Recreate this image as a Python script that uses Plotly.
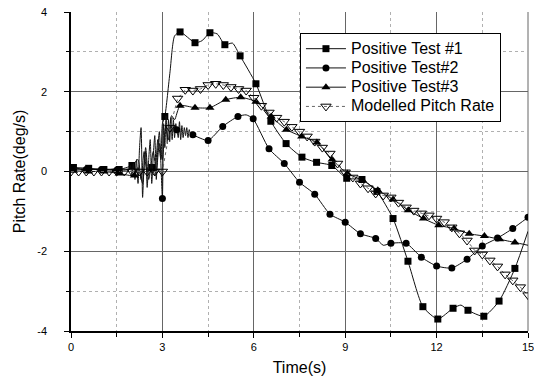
import plotly.graph_objects as go

# ---------------- data ----------------
# Positive Test #1 (squares): marker points
t1_time = [0.08, 0.58, 1.08, 1.58, 2.0, 2.65, 3.08, 3.58, 4.07, 4.56, 5.05, 5.55, 6.07,
           6.56, 7.06, 7.58, 8.06, 8.56, 9.05, 9.55, 10.04, 10.57, 11.06, 11.55, 12.04,
           12.54, 13.03, 13.55, 14.05, 14.57]
t1_rate = [0.10, 0.08, 0.05, 0.05, 0.15, 0.10, 1.38, 3.50, 3.23, 3.48, 3.18, 2.90, 2.20,
           1.26, 0.70, 0.36, 0.23, 0.15, -0.17, -0.20, -0.50, -1.18, -2.25, -3.39, -3.70,
           -3.43, -3.48, -3.63, -3.25, -2.43]
# extra line-only points of Test #1 (noise and details between markers)
t1_extra_time = [2.2, 2.3, 2.4, 2.5, 2.75, 2.85, 2.95, 3.0, 3.25, 3.4, 4.3, 4.8, 5.3,
                 12.8, 15.0]
t1_extra_rate = [0.30, -0.20, 0.50, 0.00, -0.10, 0.80, 0.30, 1.20, 2.50, 3.40, 3.28, 3.45, 3.22,
                 -3.35, -1.50]

# Positive Test #2 (circles)
t2_time = [0.0, 0.5, 1.0, 1.5, 3.0, 3.47, 4.0, 4.5, 4.98, 5.48, 5.98, 6.5, 7.0, 7.5, 8.0,
           8.5, 9.0, 9.5, 10.0, 10.5, 11.0, 11.5, 12.0, 12.5, 13.0, 13.5, 14.0, 14.5, 15.0]
t2_rate = [0.10, 0.05, 0.05, 0.03, -0.68, 1.05, 0.92, 0.78, 1.13, 1.38, 1.32, 0.57, 0.20,
           -0.27, -0.57, -1.07, -1.27, -1.56, -1.68, -1.80, -1.80, -2.15, -2.37, -2.42,
           -2.20, -1.87, -1.67, -1.43, -1.15]
t2_extra_time = [1.90, 1.95, 2.00, 2.05, 2.10, 2.15, 2.20, 2.25, 2.30, 2.35, 2.40, 2.45,
                 2.50, 2.55, 2.60, 2.65, 2.70, 2.75, 2.80, 2.85, 2.90, 2.95,
                 3.04, 3.08, 3.12, 3.16, 3.20, 3.24, 3.28, 3.32, 3.36, 3.40, 3.44,
                 3.52, 3.56, 3.60, 3.64, 3.68, 3.72, 3.76, 3.80, 3.84, 3.88, 3.92,
                 5.75, 10.25]
t2_extra_rate = [0.05, 0.15, -0.10, 0.20, -0.20, 0.30, -0.30, 0.60, 1.10, -0.65, 0.20, 0.50,
                 -0.40, 0.30, 0.80, -0.30, 0.40, 0.90, -0.20, 0.60, 1.00, 0.20,
                 1.20, 0.60, 1.40, 0.70, 1.30, 0.75, 1.35, 0.80, 1.30, 0.85, 1.20,
                 0.85, 1.25, 0.80, 1.15, 0.85, 1.10, 0.90, 1.10, 0.85, 1.05, 0.95,
                 1.42, -1.85]

# Positive Test #3 (up triangles)
t3_time = [0.08, 0.58, 1.08, 1.58, 2.08, 3.58, 4.07, 4.56, 5.08, 5.57, 6.07, 6.57, 7.07,
           7.57, 8.07, 8.57, 9.07, 9.57, 10.07, 10.57, 11.07, 11.57, 12.07, 12.57, 13.07,
           13.57, 14.07, 14.57]
t3_rate = [0.02, 0.00, 0.00, -0.05, -0.10, 1.65, 1.60, 1.60, 1.80, 1.86, 1.75, 1.38, 1.05,
           0.88, 0.73, 0.30, -0.05, -0.22, -0.47, -0.70, -0.97, -1.18, -1.35, -1.43, -1.56,
           -1.62, -1.70, -1.78]
t3_extra_time = [2.2, 2.35, 2.45, 2.55, 2.7, 2.8, 2.9, 3.0, 3.1, 3.2, 3.3, 3.4, 15.0]
t3_extra_rate = [0.10, -0.30, 0.60, -0.20, 0.50, 0.00, 0.70, 0.30, 1.10, 0.80, 1.40, 1.30, -1.85]

# Modelled Pitch Rate (open down triangles, every 0.25 s)
model_time = [0.0, 0.25, 0.5, 0.75, 1.0, 1.25, 1.5, 1.75, 2.0, 2.25, 2.5, 2.75, 3.0,
              3.25, 3.5, 3.75, 4.0, 4.25, 4.5, 4.75, 5.0, 5.25, 5.5, 5.75, 6.0,
              6.25, 6.5, 6.75, 7.0, 7.25, 7.5, 7.75, 8.0, 8.25, 8.5, 8.75, 9.0,
              9.25, 9.5, 9.75, 10.0, 10.25, 10.5, 10.75, 11.0, 11.25, 11.5, 11.75, 12.0,
              12.25, 12.5, 12.75, 13.0, 13.25, 13.5, 13.75, 14.0, 14.25, 14.5, 14.75, 15.0]
model_rate = [0, 0, 0, 0, 0, 0, 0, 0, 0, 0, 0, 0, 0,
              1.10, 1.83, 2.05, 2.03, 2.07, 2.17, 2.20, 2.17, 2.12, 2.07, 2.03, 1.85,
              1.65, 1.48, 1.35, 1.25, 1.12, 1.00, 0.88, 0.75, 0.60, 0.45, 0.20, -0.02,
              -0.15, -0.30, -0.42, -0.55, -0.60, -0.65, -0.78, -0.90, -0.98, -1.05, -1.10, -1.18,
              -1.27, -1.40, -1.55, -1.73, -1.98, -2.08, -2.23, -2.38, -2.58, -2.73, -2.90, -3.10]

x_ticks = [0, 3, 6, 9, 12, 15]
y_ticks = [-4, -2, 0, 2, 4]

names = ["Positive Test #1", "Positive Test#2", "Positive Test#3", "Modelled Pitch Rate"]


def merged(tm, vm, te, ve):
    pts = sorted(zip(list(tm) + list(te), list(vm) + list(ve)))
    return [p[0] for p in pts], [p[1] for p in pts]


def legend_label(s):
    return '<span style="font-size:16px">' + s + '</span>'


fig = go.Figure()

series = [
    (t1_time, t1_rate, t1_extra_time, t1_extra_rate, "square", 7),
    (t2_time, t2_rate, t2_extra_time, t2_extra_rate, "circle", 7),
    (t3_time, t3_rate, t3_extra_time, t3_extra_rate, "triangle-up", 8),
]

for (tm, vm, te, ve, sym, size), name in zip(series, names[:3]):
    lx, ly = merged(tm, vm, te, ve)
    fig.add_trace(go.Scatter(x=lx, y=ly, mode="lines", showlegend=False,
                             line=dict(color="#111", width=1, shape="spline", smoothing=0.6),
                             hoverinfo="skip"))
    fig.add_trace(go.Scatter(x=tm, y=vm, mode="markers", showlegend=False,
                             marker=dict(symbol=sym, size=size, color="black")))
    fig.add_trace(go.Scatter(x=[None], y=[None], mode="lines+markers",
                             name=legend_label(name),
                             line=dict(color="#111", width=1),
                             marker=dict(symbol=sym, size=size, color="black")))

fig.add_trace(go.Scatter(x=model_time, y=model_rate, mode="lines+markers",
                         name=legend_label(names[3]),
                         line=dict(color="#666", width=1, dash="dot"),
                         marker=dict(symbol="triangle-down-open", size=9,
                                     color="black", line=dict(width=1, color="black"))))

axis_font = dict(family="Liberation Sans, Arial, sans-serif", size=11, color="black")

fig.update_layout(
    width=534, height=384,
    margin=dict(l=71, r=6, t=12, b=53, autoexpand=False),
    paper_bgcolor="white", plot_bgcolor="white",
    font=dict(family="Liberation Sans, Arial, sans-serif", color="black"),
    showlegend=True,
    legend=dict(x=0.501, y=0.934, xanchor="left", yanchor="top",
                bgcolor="white", bordercolor="black", borderwidth=1,
                font=dict(size=12.5, family="Liberation Sans, Arial, sans-serif"),
                tracegroupgap=0, itemwidth=40),
    shapes=[dict(type="line", xref="x domain", yref="y domain", x0=1, x1=1, y0=0, y1=1,
                 line=dict(color="#666", width=1), layer="below")],
    xaxis=dict(range=[0, 15], tickvals=x_ticks, ticktext=[str(v) for v in x_ticks],
               automargin=False,
               showline=True, linecolor="black", linewidth=1.5,
               ticks="outside", ticklen=5, tickwidth=1, tickcolor="black",
               tickfont=axis_font, ticklabelstandoff=0, ticklabeloverflow="allow",
               showgrid=True, gridcolor="#666", gridwidth=1, zeroline=False,
               minor=dict(dtick=1.5, tick0=0, ticks="outside", ticklen=4, tickcolor="black",
                          showgrid=True, gridcolor="#b0b0b0", griddash="dot", gridwidth=1),
               title=dict(text="Time(s)", font=dict(size=16), standoff=10)),
    yaxis=dict(range=[-4, 4], tickvals=y_ticks, ticktext=[str(v) for v in y_ticks],
               automargin=False,
               showline=True, linecolor="black", linewidth=1.5,
               ticks="outside", ticklen=5, tickwidth=1, tickcolor="black",
               tickfont=axis_font, ticklabelstandoff=15,
               showgrid=True, gridcolor="#666", gridwidth=1, zeroline=False,
               minor=dict(dtick=1, tick0=0, ticks="outside", ticklen=3, tickcolor="black",
                          showgrid=True, gridcolor="#b0b0b0", griddash="dot", gridwidth=1),
               title=dict(text="Pitch Rate(deg/s)", font=dict(size=16), standoff=8)),
)

fig.write_html("out.html")
